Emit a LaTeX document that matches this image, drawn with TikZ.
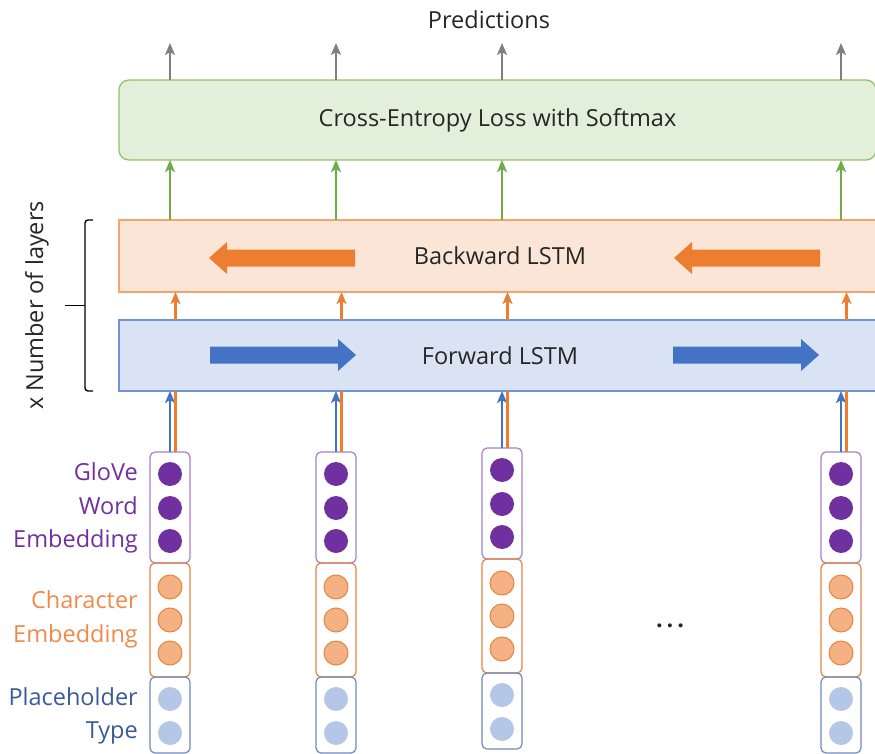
\documentclass[tikz,border=0pt]{standalone}
\usepackage{fontspec}
\setmainfont{Open Sans}
\usepackage{xcolor}
\usetikzlibrary{positioning,arrows.meta,calc}
\definecolor{LossFill}{HTML}{E2EFDA}
\definecolor{LossLine}{HTML}{8DC46A}
\definecolor{GreenArrow}{HTML}{70AD47}
\definecolor{GrayArrow}{HTML}{7F7F7F}
\definecolor{BwdFill}{HTML}{FBE5D6}
\definecolor{BwdLine}{HTML}{F4A46E}
\definecolor{OrangeArrow}{HTML}{ED7D31}
\definecolor{FwdFill}{HTML}{DAE3F3}
\definecolor{FwdLine}{HTML}{6F93D6}
\definecolor{BlueArrow}{HTML}{4472C4}
\definecolor{Glove}{HTML}{7030A0}
\definecolor{GloveLine}{HTML}{A47FCC}
\definecolor{CharFill}{HTML}{F4B183}
\definecolor{CharLine}{HTML}{E8843F}
\definecolor{CharText}{HTML}{F08A4B}
\definecolor{PhFill}{HTML}{B4C7E7}
\definecolor{PhLine}{HTML}{7089BD}
\definecolor{PhText}{HTML}{3B5A98}
\definecolor{TextDark}{HTML}{262626}

\begin{document}
\begin{tikzpicture}[x=1pt,y=-1pt,
    every node/.style={font=\fontsize{23.5}{28}\selectfont, text=TextDark},
    layer/.style={draw, line width=1.3pt, minimum width=762pt, minimum height=72pt,
                  inner sep=0pt, outer sep=0pt},
    vec/.style={draw, rounded corners=5pt, line width=1.2pt, minimum width=40pt,
                inner sep=0pt, outer sep=0pt},
    unit/.style={circle, minimum size=24pt, inner sep=0pt},
    link/.style={line width=2.7pt, -{Stealth[length=12pt,width=10pt,inset=3pt]}},
    lbl/.style={anchor=east, align=right, inner sep=0pt,
                font=\fontsize{23.5}{33.5}\selectfont},
    flow/.pic={\fill (0,-8.5) -- (128,-8.5) -- (128,-16) -- (146,0)
                     -- (128,16) -- (128,8.5) -- (0,8.5) -- cycle;}
  ]
  \useasboundingbox (0,0) rectangle (875,754);

  % output layer and the two LSTM directions
  \node (pred) at (489,20) {Predictions};
  \node[layer, fill=LossFill, draw=LossLine, rounded corners=10pt,
        minimum width=757pt, minimum height=80pt] (loss) at (497.5,120)
        {Cross-Entropy Loss with Softmax};
  \node[layer, fill=BwdFill, draw=BwdLine] (bwd) at (500,256) {Backward LSTM};
  \node[layer, fill=FwdFill, draw=FwdLine, minimum height=71pt] (fwd) at (500,355.5)
        {Forward LSTM};

  \pic[fill=OrangeArrow, xscale=-1] at (355,258) {flow};
  \pic[fill=OrangeArrow, xscale=-1] at (820,258) {flow};
  \pic[fill=BlueArrow] at (210,355) {flow};
  \pic[fill=BlueArrow] at (673,355) {flow};

  % stacked layers bracket
  \draw[line width=1.4pt, rounded corners=3pt]
    ([xshift=-26pt]bwd.north west) -- ([xshift=-34pt]bwd.north west)
    -- ([xshift=-34pt]fwd.south west) -- ([xshift=-26pt]fwd.south west);
  \coordinate (brace) at ($(bwd.north west)!0.5!(fwd.south west)+(-34,0)$);
  \draw[line width=1.4pt] (brace) -- ++(-20,0);
  \node[rotate=90] (layers) at ([xshift=-48pt]brace) {x Number of layers};

  % input vectors, one column per token
  \foreach \cx/\ty [count=\i] in {170/452,336/452,502/448,841/452} {
    \node[vec, draw=GloveLine, minimum height=111pt, anchor=north] (glove\i) at (\cx,\ty) {};
    \node[vec, draw=CharLine, minimum height=114pt, anchor=north] (char\i) at (glove\i.south) {};
    \node[vec, draw=PhLine, minimum height=76pt, anchor=north] (ph\i) at (char\i.south) {};
    \foreach \dy in {22,56,89}
      \node[unit, fill=Glove] at (\cx,{\ty+\dy}) {};
    \foreach \dy in {135,168,201}
      \node[unit, fill=CharFill, draw=CharLine, line width=1pt] at (\cx,{\ty+\dy}) {};
    \foreach \dy in {247,281}
      \node[unit, fill=PhFill] at (\cx,{\ty+\dy}) {};

    \coordinate (out\i) at (\cx,43);
    \draw[link, BlueArrow, line width=2.4pt] (glove\i.north) -- (glove\i.north |- fwd.south);
    \draw[OrangeArrow, line width=2.4pt] ([xshift=5.5pt]glove\i.north)
      -- ([xshift=5.5pt]glove\i.north |- fwd.south);
    \draw[link, OrangeArrow, line width=2.4pt] ([xshift=5.5pt]glove\i.north |- fwd.north)
      -- ([xshift=5.5pt]glove\i.north |- bwd.south);
    \draw[link, GreenArrow] (glove\i.north |- bwd.north) -- (glove\i.north |- loss.south);
    \draw[link, GrayArrow] (glove\i.north |- loss.north) -- (out\i);
  }

  % embedding labels
  \node[lbl, text=Glove] (glovelbl) at (138,508) {GloVe\\Word\\Embedding};
  \node[lbl, text=CharText] (charlbl) at (138,619.5) {Character\\Embedding};
  \node[lbl, text=PhText] (phlbl) at (138,716) {Placeholder\\Type};

  \node (dots) at (670,626) {\textbf{.\,.\,.}};
\end{tikzpicture}
\end{document}
